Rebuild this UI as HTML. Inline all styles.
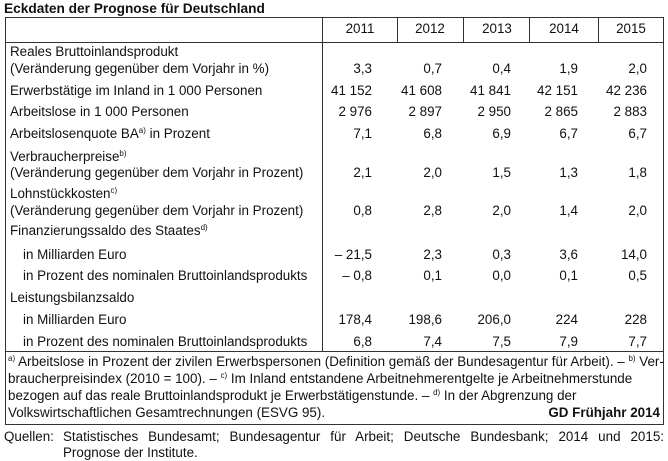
<!DOCTYPE html>
<html><head><meta charset="utf-8"><style>
body{margin:0;background:#fff;}
#c{position:relative;width:668px;height:461px;font-family:"Liberation Sans",Arial,sans-serif;font-size:13.4px;color:#111;overflow:hidden}
.t{position:absolute;line-height:16px;white-space:nowrap}
.r{position:absolute;line-height:16px;text-align:right;white-space:nowrap;width:80px}
.y{position:absolute;line-height:16px;text-align:center;width:60px}
.l{position:absolute;background:#333}
sup{font-size:8px;vertical-align:5px;line-height:0}
</style></head><body><div id="c">
<div class="t" style="left:4px;top:1px;font-weight:bold;font-size:13.7px">Eckdaten der Prognose für Deutschland</div>
<div class="l" style="left:5px;top:17px;width:659px;height:1px"></div>
<div class="l" style="left:5px;top:42px;width:659px;height:1px"></div>
<div class="l" style="left:5px;top:351px;width:659px;height:1px"></div>
<div class="l" style="left:5px;top:424px;width:659px;height:1px"></div>
<div class="l" style="left:5px;top:17px;width:1px;height:408px"></div>
<div class="l" style="left:663px;top:17px;width:1px;height:408px"></div>
<div class="l" style="left:322px;top:17px;width:1px;height:335px"></div>
<div class="l" style="left:397px;top:17px;width:1px;height:25px"></div>
<div class="l" style="left:463px;top:17px;width:1px;height:25px"></div>
<div class="l" style="left:529px;top:17px;width:1px;height:25px"></div>
<div class="l" style="left:598px;top:17px;width:1px;height:25px"></div>
<div class="y" style="left:330px;top:21px">2011</div>
<div class="y" style="left:400px;top:21px">2012</div>
<div class="y" style="left:467px;top:21px">2013</div>
<div class="y" style="left:534px;top:21px">2014</div>
<div class="y" style="left:601px;top:21px">2015</div>
<div class="t" style="left:10px;top:44px">Reales Bruttoinlandsprodukt</div>
<div class="t" style="left:10px;top:61px">(Veränderung gegenüber dem Vorjahr in %)</div>
<div class="t" style="left:10px;top:83px">Erwerbstätige im Inland in 1 000 Personen</div>
<div class="t" style="left:10px;top:104px">Arbeitslose in 1 000 Personen</div>
<div class="t" style="left:10px;top:126px">Arbeitslosenquote BA<sup>a)</sup> in Prozent</div>
<div class="t" style="left:10px;top:149px">Verbraucherpreise<sup>b)</sup></div>
<div class="t" style="left:10px;top:165px">(Veränderung gegenüber dem Vorjahr in Prozent)</div>
<div class="t" style="left:10px;top:186px">Lohnstückkosten<sup>c)</sup></div>
<div class="t" style="left:10px;top:203px">(Veränderung gegenüber dem Vorjahr in Prozent)</div>
<div class="t" style="left:10px;top:223px">Finanzierungssaldo des Staates<sup>d)</sup></div>
<div class="t" style="left:23px;top:247px">in Milliarden Euro</div>
<div class="t" style="left:23px;top:268px">in Prozent des nominalen Bruttoinlandsprodukts</div>
<div class="t" style="left:10px;top:290px">Leistungsbilanzsaldo</div>
<div class="t" style="left:23px;top:312px">in Milliarden Euro</div>
<div class="t" style="left:23px;top:334px">in Prozent des nominalen Bruttoinlandsprodukts</div>
<div style="position:absolute;left:0;top:0">
<div class="r" style="left:292px;top:61px">3,3</div><div class="r" style="left:362px;top:61px">0,7</div><div class="r" style="left:431px;top:61px">0,4</div><div class="r" style="left:498px;top:61px">1,9</div><div class="r" style="left:567px;top:61px">2,0</div>
<div class="r" style="left:292px;top:83px">41 152</div><div class="r" style="left:362px;top:83px">41 608</div><div class="r" style="left:431px;top:83px">41 841</div><div class="r" style="left:498px;top:83px">42 151</div><div class="r" style="left:567px;top:83px">42 236</div>
<div class="r" style="left:292px;top:104px">2 976</div><div class="r" style="left:362px;top:104px">2 897</div><div class="r" style="left:431px;top:104px">2 950</div><div class="r" style="left:498px;top:104px">2 865</div><div class="r" style="left:567px;top:104px">2 883</div>
<div class="r" style="left:292px;top:126px">7,1</div><div class="r" style="left:362px;top:126px">6,8</div><div class="r" style="left:431px;top:126px">6,9</div><div class="r" style="left:498px;top:126px">6,7</div><div class="r" style="left:567px;top:126px">6,7</div>
<div class="r" style="left:292px;top:165px">2,1</div><div class="r" style="left:362px;top:165px">2,0</div><div class="r" style="left:431px;top:165px">1,5</div><div class="r" style="left:498px;top:165px">1,3</div><div class="r" style="left:567px;top:165px">1,8</div>
<div class="r" style="left:292px;top:203px">0,8</div><div class="r" style="left:362px;top:203px">2,8</div><div class="r" style="left:431px;top:203px">2,0</div><div class="r" style="left:498px;top:203px">1,4</div><div class="r" style="left:567px;top:203px">2,0</div>
<div class="r" style="left:292px;top:247px">– 21,5</div><div class="r" style="left:362px;top:247px">2,3</div><div class="r" style="left:431px;top:247px">0,3</div><div class="r" style="left:498px;top:247px">3,6</div><div class="r" style="left:567px;top:247px">14,0</div>
<div class="r" style="left:292px;top:268px">– 0,8</div><div class="r" style="left:362px;top:268px">0,1</div><div class="r" style="left:431px;top:268px">0,0</div><div class="r" style="left:498px;top:268px">0,1</div><div class="r" style="left:567px;top:268px">0,5</div>
<div class="r" style="left:292px;top:312px">178,4</div><div class="r" style="left:362px;top:312px">198,6</div><div class="r" style="left:431px;top:312px">206,0</div><div class="r" style="left:498px;top:312px">224</div><div class="r" style="left:567px;top:312px">228</div>
<div class="r" style="left:292px;top:334px">6,8</div><div class="r" style="left:362px;top:334px">7,4</div><div class="r" style="left:431px;top:334px">7,5</div><div class="r" style="left:498px;top:334px">7,9</div><div class="r" style="left:567px;top:334px">7,7</div>
</div>
<div class="t" style="left:8px;top:354px"><sup>a)</sup> Arbeitslose in Prozent der zivilen Erwerbspersonen (Definition gemäß der Bundesagentur für Arbeit). – <sup>b)</sup> Ver-</div>
<div class="t" style="left:8px;top:371px">braucherpreisindex (2010 = 100). – <sup>c)</sup> Im Inland entstandene Arbeitnehmerentgelte je Arbeitnehmerstunde</div>
<div class="t" style="left:8px;top:388px">bezogen auf das reale Bruttoinlandsprodukt je Erwerbstätigenstunde. – <sup>d)</sup> In der Abgrenzung der</div>
<div class="t" style="left:8px;top:405px">Volkswirtschaftlichen Gesamtrechnungen (ESVG 95).</div>
<div class="t" style="right:8px;top:405px;font-weight:bold">GD Frühjahr 2014</div>
<div class="t" style="left:4px;top:429px">Quellen:</div>
<div class="t" style="left:63px;top:429px;width:601px;text-align:justify;text-align-last:justify;white-space:normal;height:16px;overflow:hidden">Statistisches Bundesamt; Bundesagentur für Arbeit; Deutsche Bundesbank; 2014 und 2015:</div>
<div class="t" style="left:63px;top:445px">Prognose der Institute.</div>
</div></body></html>
